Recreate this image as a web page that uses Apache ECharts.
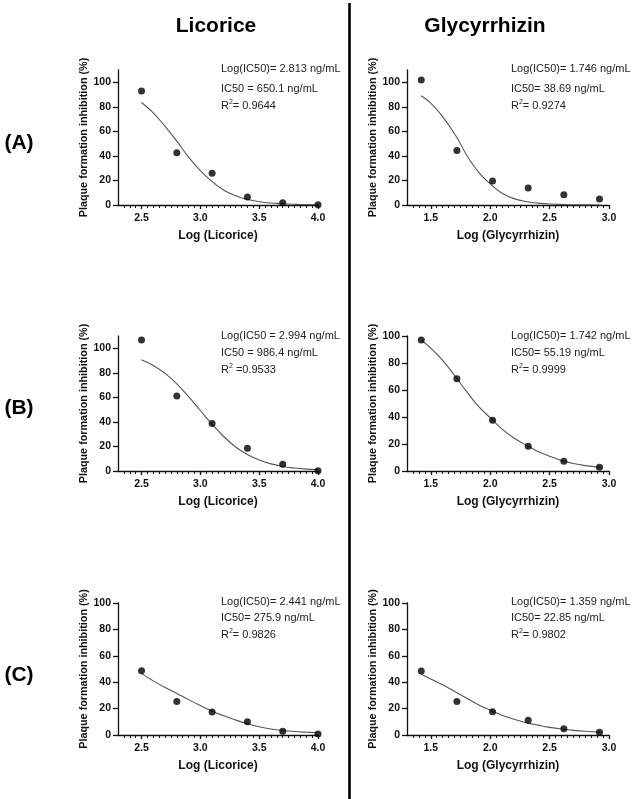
<!DOCTYPE html>
<html><head><meta charset="utf-8">
<script src="https://cdn.jsdelivr.net/npm/echarts@6/dist/echarts.min.js"></script>
<style>html,body{margin:0;padding:0;background:#fff}#c{width:636px;height:799px}</style>
</head><body><div id="c"></div>
<script>
// ---------- DATA ----------
const columnTitles = ['Licorice', 'Glycyrrhizin'];
const rowLabels = ['(A)', '(B)', '(C)'];
const xNames = ['Log (Licorice)', 'Log (Glycyrrhizin)'];
const yName = 'Plaque formation inhibition (%)';

const licoriceX = [2.5, 2.8, 3.1, 3.4, 3.7, 4.0];
const glycyX = [1.42, 1.72, 2.02, 2.32, 2.62, 2.92];

const licA = [92.8, 42.5, 25.9, 6.5, 1.9, 0.3];
const glyA = [101.9, 44.4, 19.6, 13.9, 8.4, 4.9];
const licB = [106.8, 61.2, 38.8, 18.6, 5.5, 0.3];
const glyB = [97.0, 68.3, 37.6, 18.3, 7.2, 2.7];
const licC = [48.7, 25.3, 17.4, 10.1, 2.8, 0.8];
const glyC = [48.5, 25.3, 17.7, 11.1, 4.8, 2.0];

// fitted curves
const licFitX = [2.5, 2.6, 2.7, 2.8, 2.9, 3.0, 3.1, 3.2, 3.3, 3.4, 3.5, 3.6, 3.7, 3.8, 3.9, 4.0];
const glyFitX = [1.42, 1.5, 1.6, 1.72, 1.8, 1.9, 2.02, 2.1, 2.2, 2.32, 2.4, 2.5, 2.62, 2.7, 2.8, 2.93];
const licAFit = [83.5, 75, 64, 52, 39, 28, 19, 12, 7.5, 4.5, 2.7, 1.6, 1.0, 0.6, 0.3, 0.2];
const glyAFit = [89, 83, 72, 55, 41, 27, 15.5, 9.5, 5.2, 2.5, 1.5, 0.8, 0.4, 0.2, 0.1, 0.05];
const licBFit = [90.7, 86, 79.5, 71, 60.6, 49.3, 38, 27.9, 19.6, 13.4, 8.9, 5.8, 3.7, 2.4, 1.5, 1.0];
const glyBFit = [97, 91, 82, 68.5, 59, 48, 37.8, 31, 24.5, 18.3, 14.5, 11, 7.3, 5.5, 4, 2.7];
const licCFit = [46.5, 41, 36, 31.5, 26.8, 22.3, 18, 14.5, 11.3, 8.5, 6.3, 4.6, 3.4, 2.6, 2.1, 1.7];
const glyCFit = [46, 42.5, 38, 32, 28, 23, 18, 15, 12, 9, 7.5, 5.8, 4.3, 3.5, 2.8, 2.2];

const licXTicks = [2.5, 3.0, 3.5, 4.0];
const glyXTicks = [1.5, 2.0, 2.5, 3.0];
const yTicks = [0, 20, 40, 60, 80, 100];
const yMaxes = [110, 110, 110, 100, 100, 100]; // A-L, A-R, B-L, B-R, C-L, C-R

const annotations = [
  ['Log(IC50)= 2.813 ng/mL', 'IC50 = 650.1 ng/mL', 'R{s|2}= 0.9644'],
  ['Log(IC50)= 1.746 ng/mL', 'IC50= 38.69 ng/mL', 'R{s|2}= 0.9274'],
  ['Log(IC50 = 2.994 ng/mL', 'IC50 = 986.4 ng/mL', 'R{s|2} =0.9533'],
  ['Log(IC50)= 1.742 ng/mL', 'IC50= 55.19 ng/mL', 'R{s|2}= 0.9999'],
  ['Log(IC50)= 2.441 ng/mL', 'IC50= 275.9 ng/mL', 'R{s|2}= 0.9826'],
  ['Log(IC50)= 1.359 ng/mL', 'IC50= 22.85 ng/mL', 'R{s|2}= 0.9802']
];

// ---------- LAYOUT ----------
const FONT = '"Liberation Sans", Arial, sans-serif';
const panels = [
  {x: licoriceX, y: licA, fx: licFitX, fy: licAFit, col: 0, row: 0},
  {x: glycyX, y: glyA, fx: glyFitX, fy: glyAFit, col: 1, row: 0},
  {x: licoriceX, y: licB, fx: licFitX, fy: licBFit, col: 0, row: 1},
  {x: glycyX, y: glyB, fx: glyFitX, fy: glyBFit, col: 1, row: 1},
  {x: licoriceX, y: licC, fx: licFitX, fy: licCFit, col: 0, row: 2},
  {x: glycyX, y: glyC, fx: glyFitX, fy: glyCFit, col: 1, row: 2}
];
const colGeom = [{left: 118, width: 200, min: 2.3, max: 4.0, ticks: licXTicks},
                 {left: 407, width: 202, min: 1.3, max: 3.0, ticks: glyXTicks}];
const rowGeom = [{top: 70, height: 135}, {top: 336, height: 135}, {top: 603, height: 132}];
const annoX = [221, 511];
const annoY = [[69, 89, 106], [336, 353, 370], [602, 618, 635]];

const grids = [], xAxes = [], yAxes = [], series = [], graphics = [];
panels.forEach((p, i) => {
  const cg = colGeom[p.col], rg = rowGeom[p.row];
  grids.push({left: cg.left, width: cg.width, top: rg.top, height: rg.height});
  const minorVals = [];
  for (let v = cg.min + 0.05; v < cg.max - 0.001; v += 0.05) minorVals.push(Math.round(v * 100) / 100);
  xAxes.push({
    type: 'value', gridIndex: i, min: cg.min, max: cg.max,
    name: xNames[p.col], nameLocation: 'middle', nameGap: 25,
    nameTextStyle: {fontFamily: FONT, fontWeight: 'bold', fontSize: 12, color: '#111'},
    axisLine: {show: true, onZero: false, lineStyle: {color: '#111', width: 1.3}},
    axisTick: {show: true, length: 4, customValues: cg.ticks, lineStyle: {color: '#111', width: 1.3}},
    axisLabel: {customValues: cg.ticks, formatter: v => v.toFixed(1), fontFamily: FONT, fontWeight: 'bold', fontSize: 10.5, color: '#111', margin: 8},
    splitLine: {show: false}
  });
  xAxes.push({
    type: 'value', gridIndex: i, min: cg.min, max: cg.max, position: 'bottom',
    axisLine: {show: false},
    axisTick: {show: true, length: 3, customValues: minorVals, lineStyle: {color: '#111', width: 1}},
    axisLabel: {show: false}, splitLine: {show: false}
  });
  yAxes.push({
    type: 'value', gridIndex: i, min: 0, max: yMaxes[i],
    name: yName, nameLocation: 'middle', nameGap: 27,
    nameTextStyle: {fontFamily: FONT, fontWeight: 'bold', fontSize: 10.8, color: '#111'},
    axisLine: {show: true, onZero: false, lineStyle: {color: '#111', width: 1.3}},
    axisTick: {show: true, length: 5, customValues: yTicks, lineStyle: {color: '#111', width: 1.3}},
    axisLabel: {customValues: yTicks, fontFamily: FONT, fontWeight: 'bold', fontSize: 10.5, color: '#111', margin: 7},
    splitLine: {show: false}
  });
  series.push({
    type: 'line', xAxisIndex: i * 2, yAxisIndex: i, smooth: 0.4, showSymbol: false, silent: true,
    lineStyle: {color: '#555', width: 1.1}, z: 2,
    data: p.fx.map((v, k) => [v, p.fy[k]])
  });
  series.push({
    type: 'scatter', xAxisIndex: i * 2, yAxisIndex: i, symbolSize: 7,
    itemStyle: {color: '#000'}, z: 3,
    data: p.x.map((v, k) => [v, p.y[k]])
  });
  annotations[i].forEach((t, k) => {
    graphics.push({
      type: 'text', x: annoX[p.col], y: annoY[p.row][k],
      style: {text: t, fontFamily: FONT, fontSize: 11, fill: '#222', verticalAlign: 'middle', align: 'left',
        rich: {s: {fontSize: 7, fontFamily: FONT, fill: '#222', padding: [0, 0, 7, 0]}}}
    });
  });
});

// column titles, row labels, divider
graphics.push({type: 'text', x: 216, y: 26, style: {text: columnTitles[0], fontFamily: FONT, fontWeight: 'bold', fontSize: 21, fill: '#000', align: 'center', verticalAlign: 'middle'}});
graphics.push({type: 'text', x: 485, y: 26, style: {text: columnTitles[1], fontFamily: FONT, fontWeight: 'bold', fontSize: 21, fill: '#000', align: 'center', verticalAlign: 'middle'}});
[143, 408, 675].forEach((yy, k) => graphics.push({type: 'text', x: 19, y: yy, style: {text: rowLabels[k], fontFamily: FONT, fontWeight: 'bold', fontSize: 21, fill: '#000', align: 'center', verticalAlign: 'middle'}}));
graphics.push({type: 'line', shape: {x1: 349.5, y1: 3, x2: 349.5, y2: 799}, style: {stroke: '#000', lineWidth: 2.6}});

const chart = echarts.init(document.getElementById('c'), null, {renderer: 'canvas'});
chart.setOption({
  animation: false, backgroundColor: '#fff',
  grid: grids, xAxis: xAxes, yAxis: yAxes, series: series, graphic: graphics
});
</script></body></html>
